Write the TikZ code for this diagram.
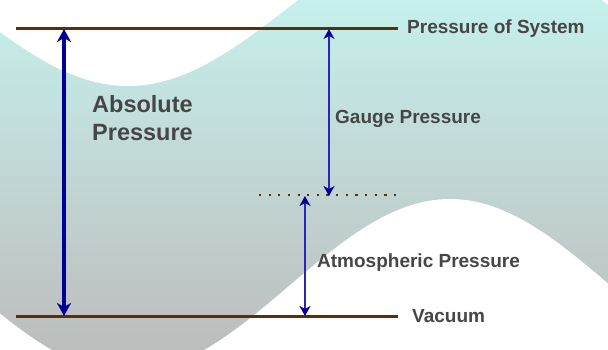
\documentclass[tikz,border=0pt]{standalone}
\usepackage{fontspec}
\setmainfont{Liberation Sans}
\usetikzlibrary{arrows.meta}
\definecolor{bgtop}{RGB}{197,240,236}
\definecolor{bgbot}{RGB}{189,189,189}
\definecolor{levelbrown}{RGB}{88,48,12}
\definecolor{darkblue}{RGB}{0,0,150}
\definecolor{thinblue}{RGB}{40,40,180}
\definecolor{labelgray}{RGB}{70,70,70}
\tikzset{
  level/.style={draw=levelbrown, line width=3pt},
  dotlevel/.style={draw=levelbrown, line width=2.2pt, dash pattern=on 2.2pt off 7.44pt},
  bigarrow/.style={draw=darkblue, line width=3.2pt,
    {Stealth[length=13pt,width=14pt,inset=4pt]}-{Stealth[length=13pt,width=14pt,inset=4pt]}},
  thinarrow/.style={draw=thinblue, line width=1.5pt,
    {Stealth[length=10pt,width=11pt,inset=3pt,color=darkblue]}-{Stealth[length=10pt,width=11pt,inset=3pt,color=darkblue]}},
  lab/.style={text=labelgray, font=\bfseries\fontsize{19}{22}\selectfont, inner sep=0pt, anchor=base west},
  biglab/.style={text=labelgray, font=\bfseries\fontsize{23.5}{28}\selectfont, inner sep=0pt, anchor=base west, align=left}
}
\begin{document}
\begin{tikzpicture}[x=1pt,y=-1pt]
\useasboundingbox (0,0) rectangle (608,350);
\begin{scope}
\clip (0,0) rectangle (608,350);
\shade[top color=bgtop, bottom color=bgbot] (0,0) rectangle (608,350);
\fill[white] plot[domain=-10:620, samples=120] (\x, {7+79*cos(0.55901*(\x-128))}) -- (620,-20) -- (-10,-20) -- cycle;
\fill[white] plot[domain=-10:620, samples=120] (\x, {286+87*cos(0.55901*(\x-128))}) -- (620,400) -- (-10,400) -- cycle;
\end{scope}
% levels
\coordinate (sysL) at (16,29);
\coordinate (sysR) at (398,29);
\coordinate (vacL) at (16,316);
\coordinate (vacR) at (398,316);
\coordinate (atmL) at (259,195);
\coordinate (atmR) at (400,195);
\draw[level] (sysL) -- (sysR);
\draw[level] (vacL) -- (vacR);
\draw[dotlevel] (atmL) -- (atmR);
% arrows
\coordinate (absT) at (64,29);
\coordinate (absB) at (64,316);
\coordinate (gT) at (329,29);
\coordinate (gB) at (329,196);
\coordinate (aT) at (305,196);
\coordinate (aB) at (305,316);
\draw[bigarrow] (absT) -- (absB);
\draw[thinarrow] (gT) -- (gB);
\draw[thinarrow] (aT) -- (aB);
% labels
\node[lab] (sys) at (407,34) {Pressure of System};
\node[lab] (vac) at (412,322) {Vacuum};
\node[lab] (gauge) at (335,124) {Gauge Pressure};
\node[lab] (atm) at (317,267) {Atmospheric Pressure};
\node[biglab] (abs1) at (92,112.5) {Absolute};
\node[biglab] (abs2) at (92,140.5) {Pressure};
\end{tikzpicture}
\end{document}
